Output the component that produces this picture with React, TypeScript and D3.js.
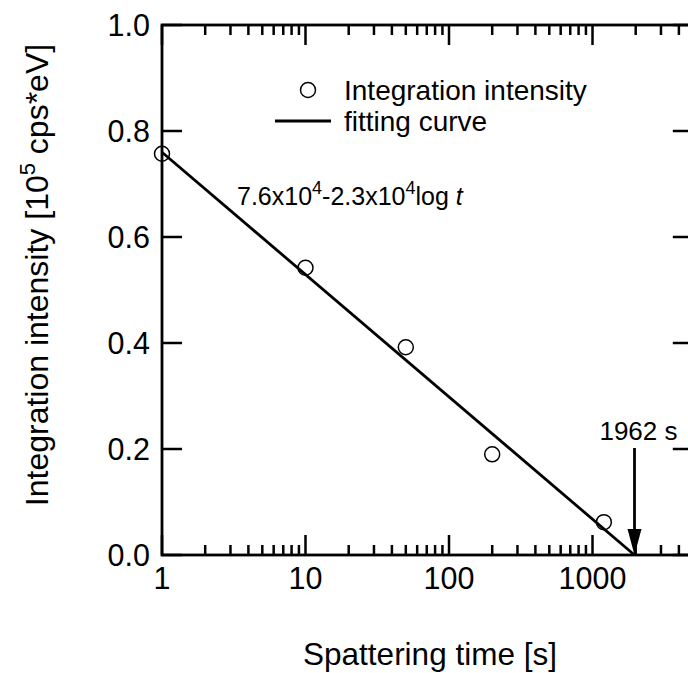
import React from "react";
import * as d3 from "d3";

const times = [1, 10, 50, 200, 1200];
const intensities = [0.757, 0.542, 0.392, 0.19, 0.062];
const fitTimes = [1, 1962];
const fitValues = [0.76, 0.0];
const xTickValues = [1, 10, 100, 1000];
const xTickLabels = ["1", "10", "100", "1000"];
const yTickValues = [0, 0.2, 0.4, 0.6, 0.8, 1.0];
const yTickLabels = ["0.0", "0.2", "0.4", "0.6", "0.8", "1.0"];
const arrowTime = 1962;
const arrowLabel = "1962 s";

const W = 688;
const H = 673;
const left = 162;
const top = 25;
const bottom = 555;
const decade = 143.5;
const xMax = 5000;

export default function App() {
  const x = d3.scaleLog().domain([1, xMax]).range([left, left + Math.log10(xMax) * decade]);
  const y = d3.scaleLinear().domain([0, 1]).range([bottom, top]);
  const right = x(xMax);

  const minorTicks: number[] = [];
  for (let p = 0; p < 4; p++) {
    for (let m = 2; m <= 9; m++) {
      const v = m * Math.pow(10, p);
      if (v <= xMax) minorTicks.push(v);
    }
  }

  const fitLine = d3
    .line<number>()
    .x((_, i) => x(fitTimes[i]))
    .y((d) => y(d));

  const font = "Arial, 'Liberation Sans', sans-serif";
  const ax = x(arrowTime);
  const arrowTop = 448;

  return (
    <svg
      width={W}
      height={H}
      style={{ position: "absolute", left: 0, top: 0, background: "#fff" }}
      fontFamily={font}
    >
      <rect x={0} y={0} width={W} height={H} fill="#fff" />
      {/* frame */}
      <rect x={left} y={top} width={right - left} height={bottom - top} fill="none" stroke="#000" strokeWidth={2.8} />

      {/* x ticks */}
      {xTickValues.map((v) => (
        <g key={"xt" + v}>
          <line x1={x(v)} x2={x(v)} y1={bottom} y2={bottom - 20} stroke="#000" strokeWidth={2.5} />
          <line x1={x(v)} x2={x(v)} y1={top} y2={top + 20} stroke="#000" strokeWidth={2.5} />
        </g>
      ))}
      {minorTicks.map((v) => (
        <g key={"xm" + v}>
          <line x1={x(v)} x2={x(v)} y1={bottom} y2={bottom - 10} stroke="#000" strokeWidth={2.5} />
          <line x1={x(v)} x2={x(v)} y1={top} y2={top + 10} stroke="#000" strokeWidth={2.5} />
        </g>
      ))}
      {xTickValues.map((v, i) => (
        <text key={"xl" + v} x={x(v)} y={589} textAnchor="middle" fontSize={30.5} fill="#000">
          {xTickLabels[i]}
        </text>
      ))}

      {/* y ticks */}
      {yTickValues.map((v, i) => (
        <g key={"yt" + v}>
          <line x1={left} x2={left + 20} y1={y(v)} y2={y(v)} stroke="#000" strokeWidth={2.5} />
          <line x1={right} x2={right - 20} y1={y(v)} y2={y(v)} stroke="#000" strokeWidth={2.5} />
          <text x={150} y={y(v) + 11} textAnchor="end" fontSize={30.5} fill="#000">
            {yTickLabels[i]}
          </text>
        </g>
      ))}

      {/* axis titles */}
      <text x={430} y={665} textAnchor="middle" fontSize={31.5} fill="#000">
        Spattering time [s]
      </text>
      <text transform="translate(48,275) rotate(-90)" textAnchor="middle" fontSize={32} fill="#000">
        Integration intensity [10
        <tspan dy={-13} fontSize={22}>5</tspan>
        <tspan dy={13}> cps*eV]</tspan>
      </text>

      {/* fit line */}
      <path d={fitLine(fitValues) || ""} fill="none" stroke="#000" strokeWidth={2.8} />

      {/* data points */}
      {times.map((t, i) => (
        <circle key={"p" + t} cx={x(t)} cy={y(intensities[i])} r={7.5} fill="none" stroke="#000" strokeWidth={1.5} />
      ))}

      {/* equation */}
      <text x={237} y={205} fontSize={25} fill="#000">
        7.6x10
        <tspan dy={-11} fontSize={18}>4</tspan>
        <tspan dy={11}>-2.3x10</tspan>
        <tspan dy={-11} fontSize={18}>4</tspan>
        <tspan dy={11}>log </tspan>
        <tspan fontStyle="italic">t</tspan>
      </text>

      {/* arrow */}
      <line x1={ax} x2={ax} y1={arrowTop} y2={bottom - 20} stroke="#000" strokeWidth={2.8} />
      <polygon points={`${ax - 7},${bottom - 26} ${ax + 7},${bottom - 26} ${ax},${bottom}`} fill="#000" />
      <text x={ax + 4} y={440} textAnchor="middle" fontSize={26} fill="#000">
        {arrowLabel}
      </text>

      {/* legend */}
      <circle cx={308} cy={90} r={7.5} fill="none" stroke="#000" strokeWidth={1.5} />
      <text x={344} y={100} fontSize={28} fill="#000">
        Integration intensity
      </text>
      <line x1={275} x2={331} y1={121} y2={121} stroke="#000" strokeWidth={2.8} />
      <text x={344} y={131} fontSize={28} fill="#000">
        fitting curve
      </text>
    </svg>
  );
}
